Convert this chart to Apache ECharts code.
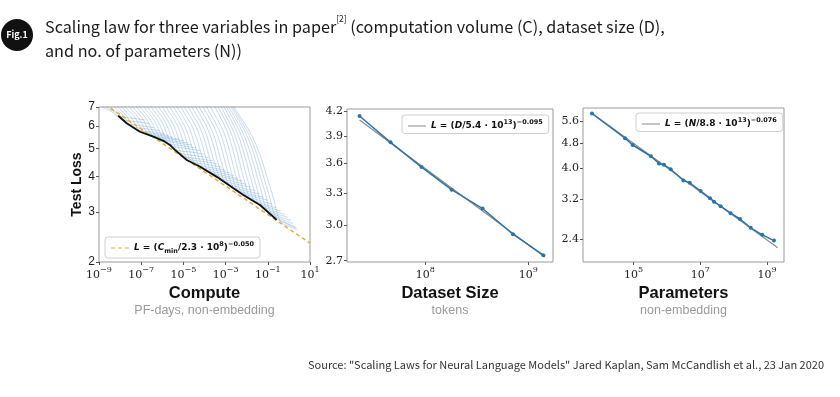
<!DOCTYPE html>
<html>
<head>
<meta charset="utf-8">
<script src="https://cdn.jsdelivr.net/npm/echarts@6/dist/echarts.min.js"></script>
<style>
  html, body { margin: 0; padding: 0; background: #fff; }
  #chart { width: 840px; height: 397px; }
</style>
</head>
<body>
<div id="chart"></div>
<script>
// ---- panel 1: compute (x stored as log10 of PF-days) ----
const computeTicks = [-9, -7, -5, -3, -1, 1];
const lossTicks = [2, 3, 4, 5, 6, 7];
const computeFit = [[-9.0, 7.38], [1.0, 2.33]];
const computeFrontier = [
    [-8.09, 6.52], [-7.69, 6.14], [-7.06, 5.73], [-6.43, 5.51], [-5.9, 5.3],
    [-5.64, 5.15], [-5.4, 4.95], [-4.84, 4.56], [-4.21, 4.32], [-3.42, 3.98],
    [-2.63, 3.63], [-2.16, 3.44], [-1.37, 3.17], [-0.58, 2.81]
];
const learningCurves = [
    [[-9.0, 7.5], [-8.8, 7.0], [-8.44, 6.78], [-8.16, 6.53], [-8.0, 6.47], [-7.3, 6.38], [-6.8, 6.3]],
    [[-8.85, 7.5], [-8.62, 7.0], [-8.25, 6.7], [-7.96, 6.38], [-7.8, 6.29], [-7.1, 6.2], [-6.6, 6.12]],
    [[-8.7, 7.5], [-8.45, 7.0], [-8.07, 6.64], [-7.77, 6.23], [-7.6, 6.11], [-6.9, 6.0], [-6.4, 5.92]],
    [[-8.5, 7.5], [-8.27, 7.0], [-7.88, 6.58], [-7.57, 6.1], [-7.4, 5.97], [-6.7, 5.86], [-6.1, 5.78]],
    [[-8.35, 7.5], [-8.1, 7.0], [-7.7, 6.52], [-7.38, 5.98], [-7.2, 5.82], [-6.4, 5.72], [-5.9, 5.65]],
    [[-8.17, 7.5], [-7.92, 7.0], [-7.5, 6.49], [-7.18, 5.91], [-7.0, 5.74], [-6.2, 5.63], [-5.7, 5.56]],
    [[-8.0, 7.5], [-7.75, 7.0], [-7.32, 6.46], [-6.99, 5.84], [-6.8, 5.66], [-6.0, 5.55], [-5.5, 5.48]],
    [[-7.82, 7.5], [-7.57, 7.0], [-7.13, 6.43], [-6.79, 5.78], [-6.6, 5.59], [-5.8, 5.47], [-5.2, 5.4]],
    [[-7.65, 7.5], [-7.4, 7.0], [-6.95, 6.4], [-6.6, 5.72], [-6.4, 5.52], [-5.6, 5.4], [-5.0, 5.33]],
    [[-7.47, 7.5], [-7.22, 7.0], [-6.76, 6.37], [-6.4, 5.66], [-6.2, 5.44], [-5.4, 5.31], [-4.8, 5.24]],
    [[-7.3, 7.5], [-7.05, 7.0], [-6.58, 6.34], [-6.21, 5.6], [-6.0, 5.37], [-5.2, 5.22], [-4.6, 5.15]],
    [[-7.12, 7.5], [-6.87, 7.0], [-6.39, 6.29], [-6.01, 5.49], [-5.8, 5.24], [-5.0, 5.11], [-4.4, 5.03]],
    [[-6.95, 7.5], [-6.7, 7.0], [-6.2, 6.24], [-5.82, 5.38], [-5.6, 5.12], [-4.8, 5.0], [-4.2, 4.92]],
    [[-6.77, 7.5], [-6.52, 7.0], [-6.01, 6.18], [-5.62, 5.26], [-5.4, 4.97], [-4.6, 4.86], [-4.0, 4.78]],
    [[-6.6, 7.5], [-6.35, 7.0], [-5.83, 6.13], [-5.43, 5.15], [-5.2, 4.84], [-4.4, 4.72], [-3.8, 4.65]],
    [[-6.42, 7.5], [-6.17, 7.0], [-5.64, 6.08], [-5.23, 5.05], [-5.0, 4.72], [-4.2, 4.6], [-3.6, 4.53]],
    [[-6.25, 7.5], [-6.0, 7.0], [-5.46, 6.04], [-5.04, 4.96], [-4.8, 4.62], [-4.0, 4.5], [-3.4, 4.42]],
    [[-6.07, 7.5], [-5.82, 7.0], [-5.27, 6.0], [-4.84, 4.87], [-4.6, 4.52], [-3.8, 4.39], [-3.2, 4.31]],
    [[-5.9, 7.5], [-5.65, 7.0], [-5.09, 5.96], [-4.65, 4.79], [-4.4, 4.42], [-3.6, 4.28], [-3.0, 4.2]],
    [[-5.72, 7.5], [-5.47, 7.0], [-4.9, 5.92], [-4.45, 4.71], [-4.2, 4.33], [-3.4, 4.19], [-2.8, 4.11]],
    [[-5.55, 7.5], [-5.3, 7.0], [-4.72, 5.89], [-4.26, 4.64], [-4.0, 4.24], [-3.2, 4.1], [-2.6, 4.02]],
    [[-5.37, 7.5], [-5.12, 7.0], [-4.53, 5.85], [-4.06, 4.57], [-3.8, 4.16], [-3.0, 4.01], [-2.4, 3.93]],
    [[-5.2, 7.5], [-4.95, 7.0], [-4.34, 5.82], [-3.87, 4.5], [-3.6, 4.08], [-2.8, 3.93], [-2.2, 3.85]],
    [[-5.02, 7.5], [-4.77, 7.0], [-4.15, 5.78], [-3.67, 4.42], [-3.4, 3.99], [-2.6, 3.83], [-2.0, 3.75]],
    [[-4.85, 7.5], [-4.6, 7.0], [-3.97, 5.75], [-3.48, 4.35], [-3.2, 3.9], [-2.4, 3.74], [-1.8, 3.66]],
    [[-4.67, 7.5], [-4.42, 7.0], [-3.78, 5.71], [-3.28, 4.27], [-3.0, 3.81], [-2.2, 3.64], [-1.6, 3.56]],
    [[-4.5, 7.5], [-4.25, 7.0], [-3.6, 5.68], [-3.09, 4.2], [-2.8, 3.72], [-2.0, 3.55], [-1.4, 3.47]],
    [[-4.32, 7.5], [-4.07, 7.0], [-3.41, 5.65], [-2.89, 4.13], [-2.6, 3.64], [-1.8, 3.46], [-1.2, 3.38]],
    [[-4.15, 7.5], [-3.9, 7.0], [-3.23, 5.62], [-2.7, 4.06], [-2.4, 3.56], [-1.6, 3.38], [-1.0, 3.3]],
    [[-3.97, 7.5], [-3.72, 7.0], [-3.04, 5.58], [-2.5, 3.99], [-2.2, 3.48], [-1.4, 3.29], [-0.8, 3.2]],
    [[-3.75, 7.5], [-3.5, 7.0], [-2.85, 5.55], [-2.31, 3.92], [-2.0, 3.4], [-1.2, 3.2], [-0.6, 3.1]],
    [[-3.6, 7.5], [-3.35, 7.0], [-2.68, 5.52], [-2.11, 3.86], [-1.8, 3.32], [-1.0, 3.12], [-0.4, 3.02]],
    [[-3.45, 7.5], [-3.2, 7.0], [-2.52, 5.49], [-1.92, 3.8], [-1.6, 3.25], [-0.8, 3.04], [-0.2, 2.94]],
    [[-3.32, 7.5], [-3.07, 7.0], [-2.36, 5.46], [-1.72, 3.73], [-1.4, 3.17], [-0.6, 2.96], [-0.05, 2.87]],
    [[-3.2, 7.5], [-2.95, 7.0], [-2.2, 5.43], [-1.53, 3.67], [-1.2, 3.1], [-0.4, 2.88], [0.1, 2.8]],
    [[-3.1, 7.5], [-2.85, 7.0], [-2.05, 5.4], [-1.33, 3.6], [-1.0, 3.02], [-0.25, 2.81], [0.2, 2.73]],
    [[-3.0, 7.5], [-2.75, 7.0], [-1.9, 5.37], [-1.14, 3.53], [-0.8, 2.94], [-0.1, 2.74], [0.3, 2.66]],
    [[-2.92, 7.5], [-2.67, 7.0], [-1.76, 5.33], [-0.95, 3.46], [-0.6, 2.86], [0.0, 2.7], [0.35, 2.63]],
    [[-2.85, 7.5], [-2.6, 7.0], [-1.62, 5.3], [-0.75, 3.39], [-0.4, 2.77], [0.1, 2.65], [0.4, 2.6]]
];

// ---- panel 2: dataset size (tokens) ----
const datasetTicks = [8, 9];
const datasetLossTicks = [2.7, 3.0, 3.3, 3.6, 3.9, 4.2];
const datasetSizes = [2.3e7, 4.6e7, 9.2e7, 1.8e8, 3.6e8, 7.1e8, 1.4e9];
const datasetLoss = [4.14, 3.83, 3.56, 3.33, 3.15, 2.92, 2.745];
const datasetFit = [[2.3e7, 4.09], [1.45e9, 2.73]];

// ---- panel 3: parameters ----
const paramTicks = [5, 7, 9];
const paramLossTicks = [2.4, 3.2, 4.0, 4.8, 5.6];
const paramCounts = [5.6e3, 5.5e4, 9.3e4, 3.3e5, 5.75e5, 8.1e5, 1.29e6, 3.1e6, 4.8e6,
    1.02e7, 1.95e7, 2.57e7, 4.07e7, 8.1e7, 1.55e8, 3.24e8, 7.2e8, 1.62e9];
const paramLoss = [5.94, 4.97, 4.73, 4.36, 4.14, 4.10, 3.97, 3.66, 3.60,
    3.39, 3.22, 3.14, 3.04, 2.89, 2.77, 2.60, 2.47, 2.37];
const paramFit = [[5.6e3, 5.95], [2.1e9, 2.25]];

const lg = Math.log10;
const MINUS = '\u2212';

const chart = echarts.init(document.getElementById('chart'));

const serifFont = 'DejaVu Serif';
const plotFont = 'Liberation Sans';
const cjkFont = 'Noto Sans CJK JP';

function powLabel(v) {
    const e = Math.round(v);
    return '{n|10}{s|' + (e < 0 ? MINUS + Math.abs(e) : e) + '}';
}
const powRich = {
    n: { fontFamily: serifFont, fontSize: 11, color: '#222', lineHeight: 15, verticalAlign: 'bottom' },
    s: { fontFamily: serifFont, fontSize: 8, color: '#222', lineHeight: 10, verticalAlign: 'top' }
};

function xAxisFor(gridIndex, min, max, ticks, title, sub) {
    return {
        type: 'value', gridIndex, min, max,
        axisLine: { show: false, onZero: false },
        splitLine: { show: false },
        axisTick: { show: true, length: 3, customValues: ticks, lineStyle: { color: '#555' } },
        axisLabel: { customValues: ticks, margin: 4, formatter: powLabel, rich: powRich },
        name: '{a|' + title + '}\n{b|' + sub + '}',
        nameLocation: 'middle',
        nameGap: 21,
        nameTextStyle: {
            rich: {
                a: { fontFamily: plotFont, fontWeight: 'bold', fontSize: 16.5, color: '#111', lineHeight: 20 },
                b: { fontFamily: plotFont, fontSize: 12.5, color: '#9a9a9a', lineHeight: 16 }
            }
        }
    };
}

function yAxisFor(gridIndex, min, max, ticks, family, digits) {
    return {
        type: 'value', gridIndex, min: lg(min), max: lg(max),
        axisLine: { show: false, onZero: false },
        splitLine: { show: false },
        axisTick: { show: true, length: 3, customValues: ticks.map(lg), lineStyle: { color: '#555' } },
        axisLabel: {
            customValues: ticks.map(lg),
            margin: 4,
            fontFamily: family,
            fontSize: family === serifFont ? 11 : 12,
            color: '#222',
            formatter: v => Math.pow(10, v).toFixed(digits)
        }
    };
}

const legendRich = {
    i: { fontFamily: 'DejaVu Sans', fontStyle: 'italic', fontWeight: 'bold', fontSize: 9, color: '#111', lineHeight: 14 },
    n: { fontFamily: 'DejaVu Sans', fontWeight: 'bold', fontSize: 9, color: '#111', lineHeight: 14 },
    sup: { fontFamily: 'DejaVu Sans', fontWeight: 'bold', fontSize: 6.5, color: '#111', lineHeight: 9, verticalAlign: 'top' },
    sub: { fontFamily: 'DejaVu Sans', fontWeight: 'bold', fontSize: 6.5, color: '#111', lineHeight: 9, verticalAlign: 'bottom' }
};
const legendText = {
    fitC: '{i|L}{n| = (}{i|C}{sub|min}{n|/2.3 · 10}{sup|8}{n|)}{sup|' + MINUS + '0.050}',
    fitD: '{i|L}{n| = (}{i|D}{n|/5.4 · 10}{sup|13}{n|)}{sup|' + MINUS + '0.095}',
    fitN: '{i|L}{n| = (}{i|N}{n|/8.8 · 10}{sup|13}{n|)}{sup|' + MINUS + '0.076}'
};
const solidIcon = 'path://M0,0h18v1h-18z';
const dashedIcon = 'path://M0,0h4v1h-4zM7,0h4v1h-4zM14,0h4v1h-4z';
function legendFor(name, icon, left, top) {
    return {
        data: [{ name, icon }], left, top,
        orient: 'horizontal',
        itemWidth: 18, itemHeight: 1.4, itemGap: 4,
        padding: [4, 6, 3, 6],
        borderColor: '#cfcfcf', borderWidth: 1, borderRadius: 3,
        backgroundColor: 'rgba(255,255,255,0.85)',
        selectedMode: false,
        formatter: n => legendText[n],
        textStyle: { rich: legendRich }
    };
}

const curveSeries = learningCurves.map((pts, i) => ({
    name: 'run' + i,
    type: 'line',
    xAxisIndex: 0, yAxisIndex: 0,
    data: pts.map(([e, l]) => [e, lg(l)]),
    smooth: 0.35,
    symbol: 'none',
    silent: true,
    lineStyle: { color: 'rgba(70,140,200,0.3)', width: 1 },
    z: 1
}));

const option = {
    backgroundColor: '#fff',
    animation: false,
    title: {
        left: 40, top: 10,
        text: '{t|Scaling law for three variables in paper}{sup|[2]}{t| (computation volume (C), dataset size (D),}\n{t|and no. of parameters (N))}',
        textStyle: {
            fontFamily: cjkFont, fontSize: 16.2, fontWeight: 'normal', lineHeight: 24, color: '#1a1a1a',
            rich: {
                t: { fontFamily: cjkFont, fontSize: 16.2, fontWeight: 'normal', lineHeight: 24, color: '#1a1a1a' },
                sup: { fontFamily: cjkFont, fontSize: 8.5, fontWeight: 'normal', lineHeight: 15, color: '#1a1a1a', verticalAlign: 'top' }
            }
        }
    },
    graphic: [
        { type: 'circle', shape: { cx: 17, cy: 35, r: 16 }, style: { fill: '#111' } },
        {
            type: 'text', x: 17, y: 35,
            style: { text: 'Fig.1', fill: '#fff', font: 'bold 9px "Noto Sans CJK JP"', align: 'center', verticalAlign: 'middle' }
        },
        {
            type: 'text', right: 16, top: 359,
            style: {
                text: 'Source: "Scaling Laws for Neural Language Models" Jared Kaplan, Sam McCandlish et al., 23 Jan 2020',
                fill: '#333', font: '11px "Noto Sans CJK JP"'
            }
        }
    ],
    legend: [
        legendFor('fitC', dashedIcon, 105, 237),
        legendFor('fitD', solidIcon, 402, 115),
        legendFor('fitN', solidIcon, 636, 113)
    ],
    grid: [
        { left: 99, top: 107, width: 211, height: 155, show: true, borderColor: '#9a9a9a', borderWidth: 1, backgroundColor: 'transparent' },
        { left: 347, top: 109, width: 206, height: 153, show: true, borderColor: '#9a9a9a', borderWidth: 1, backgroundColor: 'transparent' },
        { left: 583, top: 108, width: 201, height: 154, show: true, borderColor: '#9a9a9a', borderWidth: 1, backgroundColor: 'transparent' }
    ],
    xAxis: [
        xAxisFor(0, -9, 1, computeTicks, 'Compute', 'PF-days, non-embedding'),
        xAxisFor(1, 7.24, 9.24, datasetTicks, 'Dataset Size', 'tokens'),
        xAxisFor(2, 3.48, 9.51, paramTicks, 'Parameters', 'non-embedding')
    ],
    yAxis: [
        Object.assign(yAxisFor(0, 2, 7, lossTicks, plotFont, 0), {
            name: 'Test Loss',
            nameLocation: 'middle',
            nameGap: 14,
            nameTextStyle: { fontFamily: plotFont, fontWeight: 'bold', fontSize: 14, color: '#111' }
        }),
        yAxisFor(1, 2.69, 4.226, datasetLossTicks, serifFont, 1),
        yAxisFor(2, 2.03, 6.18, paramLossTicks, serifFont, 1)
    ],
    series: [
        ...curveSeries,
        {
            name: 'fitC', type: 'line', xAxisIndex: 0, yAxisIndex: 0,
            data: computeFit.map(([e, l]) => [e, lg(l)]),
            symbol: 'none', silent: true,
            lineStyle: { color: '#f2a93b', width: 1.5, type: [4, 3] },
            itemStyle: { color: '#f2a93b' },
            z: 2
        },
        {
            name: 'frontier', type: 'line', xAxisIndex: 0, yAxisIndex: 0,
            data: computeFrontier.map(([e, l]) => [e, lg(l)]),
            symbol: 'none', silent: true,
            lineStyle: { color: '#111', width: 1.8 },
            z: 3
        },
        {
            name: 'fitD', type: 'line', xAxisIndex: 1, yAxisIndex: 1,
            data: datasetFit.map(([d, l]) => [lg(d), lg(l)]),
            symbol: 'none', silent: true,
            lineStyle: { color: '#8a8a8a', width: 1.2 },
            itemStyle: { color: '#8a8a8a' },
            z: 2
        },
        {
            name: 'dataD', type: 'line', xAxisIndex: 1, yAxisIndex: 1,
            data: datasetSizes.map((d, i) => [lg(d), lg(datasetLoss[i])]),
            symbol: 'circle', symbolSize: 4, silent: true,
            lineStyle: { color: '#2b74a8', width: 1.5 },
            itemStyle: { color: '#2b74a8' },
            z: 3
        },
        {
            name: 'fitN', type: 'line', xAxisIndex: 2, yAxisIndex: 2,
            data: paramFit.map(([n, l]) => [lg(n), lg(l)]),
            symbol: 'none', silent: true,
            lineStyle: { color: '#8a8a8a', width: 1.2 },
            itemStyle: { color: '#8a8a8a' },
            z: 2
        },
        {
            name: 'dataN', type: 'line', xAxisIndex: 2, yAxisIndex: 2,
            data: paramCounts.map((n, i) => [lg(n), lg(paramLoss[i])]),
            symbol: 'circle', symbolSize: 4, silent: true,
            lineStyle: { color: '#2b74a8', width: 1.5 },
            itemStyle: { color: '#2b74a8' },
            z: 3
        }
    ]
};

chart.setOption(option);
</script>
</body>
</html>
